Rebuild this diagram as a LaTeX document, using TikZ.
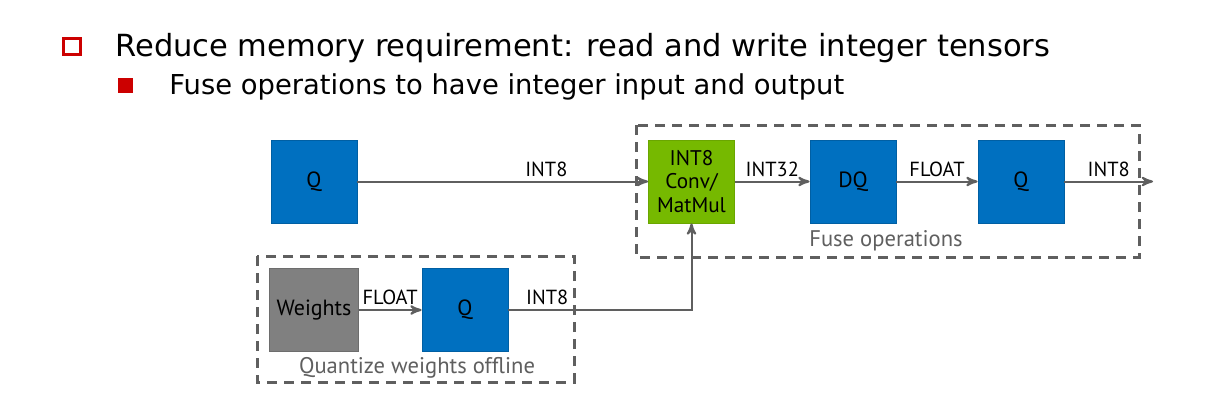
\documentclass[tikz,border=0pt]{standalone}
\usepackage{fontspec}
\usepackage{tikz}
\usetikzlibrary{arrows,positioning,calc}
\setmainfont{DejaVu Sans}
\newfontfamily\boxfont{PT Sans}
\definecolor{nvblue}{RGB}{0,112,192}
\definecolor{nvgreen}{RGB}{118,185,0}
\definecolor{wgray}{RGB}{128,128,128}
\definecolor{linegray}{RGB}{95,95,95}
\definecolor{bulletred}{RGB}{204,0,0}
\tikzset{
>=stealth',
  qbox/.style={
    rectangle,
    fill=nvblue, draw=nvblue!85!black, thin,
    minimum width=43pt,
    minimum height=41.5pt,
    font=\boxfont\fontsize{11}{13}\selectfont,
    text centered},
  opbox/.style={qbox, fill=nvgreen, draw=nvgreen!90!black,
    align=center, font=\boxfont\fontsize{10.6}{11.6}\selectfont},
  wbox/.style={qbox, fill=wgray, draw=wgray!85!black},
  line/.style={draw=linegray, line width=1pt, ->},
  group/.style={draw=linegray, line width=1.5pt, dash pattern=on 5pt off 3.5pt},
  grouplabel/.style={text=linegray, font=\boxfont\fontsize{11.3}{13}\selectfont},
  edgelabel/.style={font=\boxfont\fontsize{10.2}{12}\selectfont, inner sep=1pt},
}
\begin{document}
\begin{tikzpicture}[x=0.5pt, y=-0.5pt]
	\useasboundingbox (0,0) rectangle (1231,413);

	% bullet lines
	\draw[bulletred, line width=1.5pt] (63.5,38.5) rectangle (80.5,54.5);
	\node[anchor=base west, inner sep=0pt, font=\fontsize{15.25}{18}\selectfont] (title) at (115,56)
	{Reduce memory requirement: read and write integer tensors};
	\fill[bulletred] (118,78) rectangle (133,93);
	\node[anchor=base west, inner sep=0pt, font=\fontsize{13.7}{16}\selectfont] (sub) at (169,94)
	{Fuse operations to have integer input and output};

	% dashed groups
	\draw[group] (636,125) rectangle (1139,257);
	\node[grouplabel] (fuselbl) at (886,241) {Fuse operations};
	\draw[group] (257,256) rectangle (574,382);
	\node[grouplabel] (offlbl) at (417,368) {Quantize weights offline};

	% boxes
	\node[qbox] (q1) at (314,181.5) {Q};
	\node[opbox] (mm) at (691.5,181.5) {INT8\\Conv/\\MatMul};
	\node[qbox] (dq) at (853,181.5) {DQ};
	\node[qbox] (q3) at (1021,181.5) {Q};
	\node[wbox] (wts) at (314,310) {Weights};
	\node[qbox] (q2) at (465,310) {Q};
	\coordinate (out) at (1153,181.5);

	% connectors
	\draw[line] (q1) -- (mm) node[edgelabel, pos=.65, above=1pt] {INT8};
	\draw[line] (mm) -- (dq) node[edgelabel, midway, above=1pt] {INT32};
	\draw[line] (dq) -- (q3) node[edgelabel, midway, above=1pt] {FLOAT};
	\draw[line] (q3) -- (out) node[edgelabel, midway, above=1pt] {INT8};
	\draw[line] (wts) -- (q2) node[edgelabel, midway, above=1pt] {FLOAT};
	\draw[line] (q2) -| (mm) node[edgelabel, pos=.106, above=1pt] {INT8};

\end{tikzpicture}
\end{document}
